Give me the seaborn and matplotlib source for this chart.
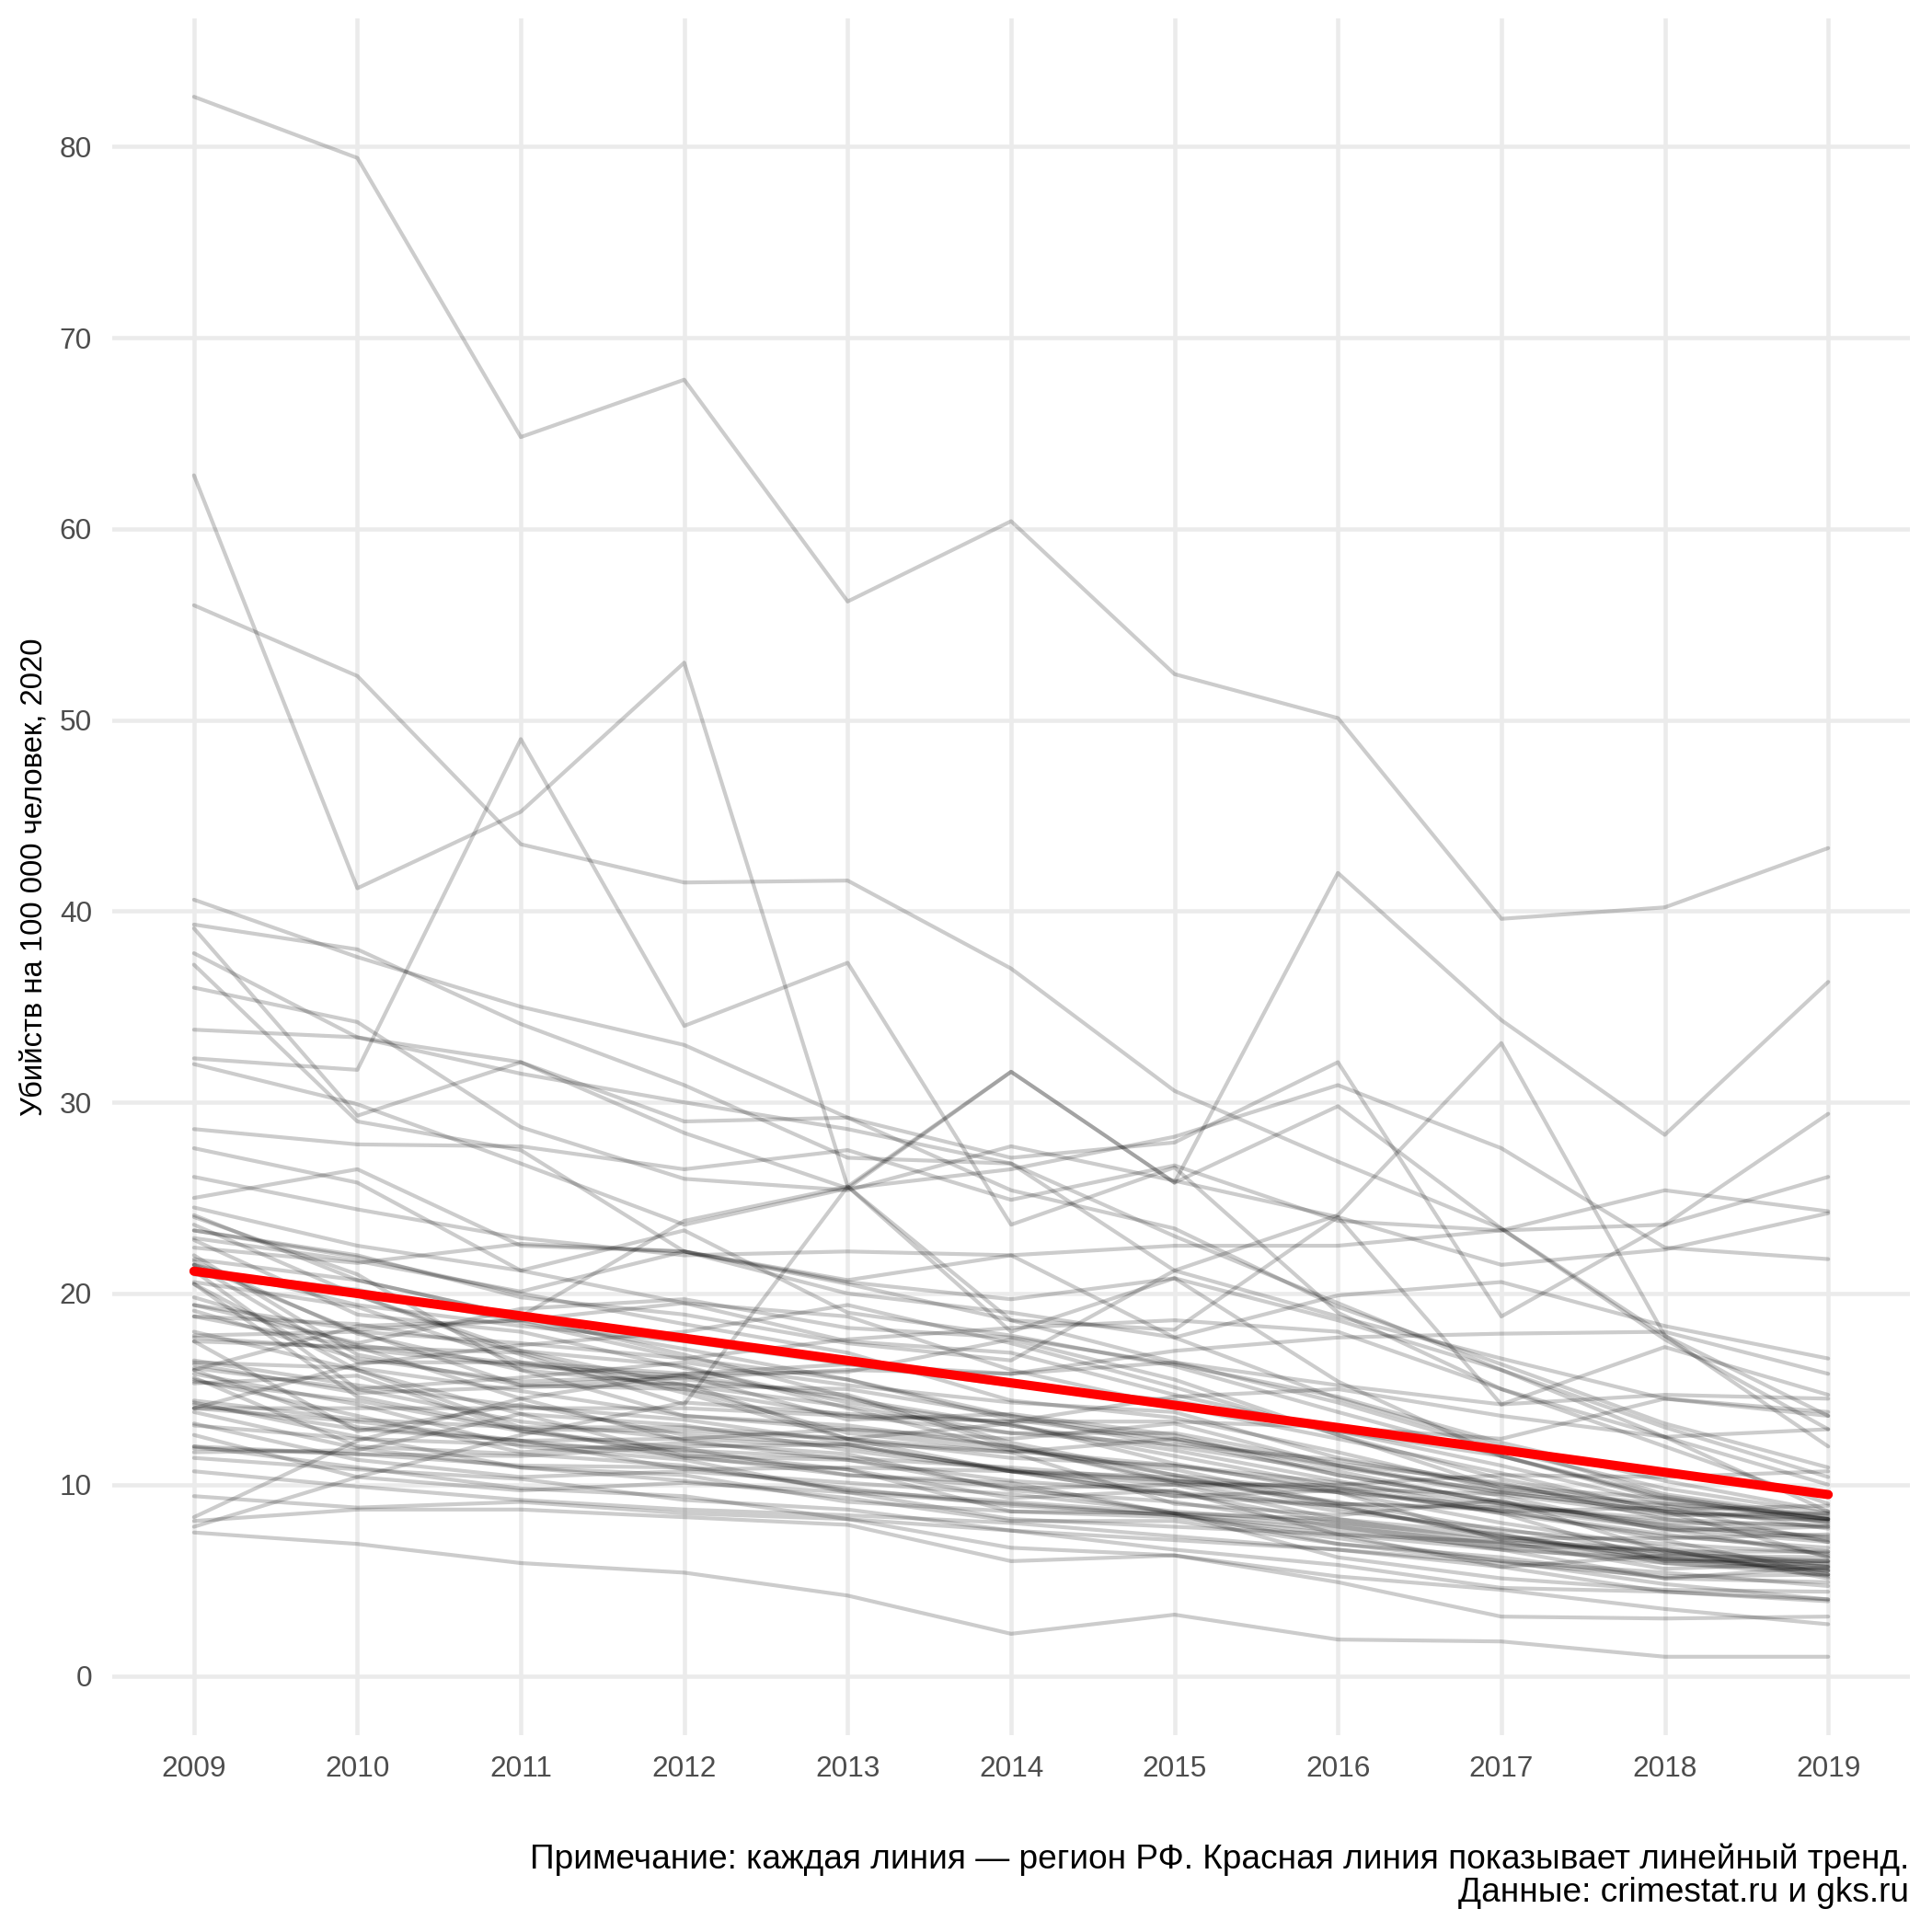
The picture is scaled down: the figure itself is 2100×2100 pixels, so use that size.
import matplotlib.pyplot as plt
import pandas as pd
import seaborn as sns

# Years on the x axis
years = [2009, 2010, 2011, 2012, 2013, 2014, 2015, 2016, 2017, 2018, 2019]

# Murders per 100 000 people, one list per region
r01 = [82.6, 79.4, 64.8, 67.8, 56.2, 60.4, 52.4, 50.1, 39.6, 40.2, 43.3]
r02 = [62.8, 41.2, 45.2, 53.0, 25.6, 31.6, 25.8, 42.0, 34.3, 28.3, 36.3]
r03 = [56.0, 52.3, 43.5, 41.5, 41.6, 37.0, 30.6, 26.9, 23.4, 17.8, 13.6]
r04 = [32.3, 31.7, 49.0, 34.0, 37.3, 23.6, 26.6, 19.0, 15.0, 12.0, 9.0]
r05 = [40.6, 37.6, 35.0, 33.0, 29.2, 27.1, 27.9, 32.1, 18.8, 23.6, 29.4]
r06 = [39.3, 38.0, 34.1, 30.9, 27.1, 26.8, 23.0, 19.5, 16.0, 12.5, 8.6]
r07 = [39.1, 29.3, 32.1, 28.4, 25.5, 26.5, 28.2, 30.9, 27.6, 22.4, 21.8]
r08 = [37.8, 33.4, 31.5, 30.0, 28.6, 26.8, 21.2, 18.8, 16.6, 14.5, 13.6]
r09 = [37.2, 29.0, 27.5, 22.2, 20.0, 19.0, 17.7, 14.5, 12.0, 9.5, 8.3]
r10 = [36.0, 34.2, 28.7, 26.0, 25.4, 27.7, 25.9, 24.0, 21.5, 22.3, 24.2]
r11 = [33.8, 33.4, 32.1, 29.0, 29.2, 25.4, 23.4, 19.3, 16.3, 13.2, 10.9]
r12 = [32.0, 29.9, 26.8, 23.6, 25.5, 31.6, 25.8, 29.8, 23.4, 17.6, 12.9]
r13 = [28.6, 27.8, 27.7, 26.5, 27.5, 24.9, 26.7, 23.8, 23.3, 25.4, 24.3]
r14 = [27.6, 25.8, 21.2, 23.3, 19.0, 17.8, 16.2, 13.8, 11.5, 9.2, 8.2]
r15 = [26.1, 24.4, 22.9, 22.0, 22.2, 22.0, 22.5, 22.5, 23.3, 23.6, 26.1]
r16 = [25.0, 26.5, 22.5, 22.2, 20.5, 18.6, 16.4, 14.3, 11.8, 9.8, 8.5]
r17 = [24.5, 22.5, 21.2, 19.5, 18.8, 16.0, 14.1, 12.4, 10.6, 8.6, 6.2]
r18 = [24.1, 20.7, 18.8, 23.8, 25.6, 18.0, 20.8, 15.4, 11.5, 9.4, 8.2]
r19 = [23.3, 22.0, 19.8, 18.9, 17.4, 16.5, 21.2, 24.1, 33.1, 17.8, 12.0]
r20 = [22.9, 21.7, 20.1, 22.2, 20.7, 22.0, 17.7, 19.9, 20.6, 18.3, 16.6]
r21 = [23.6, 19.9, 16.8, 14.2, 25.6, 18.6, 18.1, 24.0, 14.2, 17.2, 14.7]
r22 = [23.3, 21.9, 20.0, 18.4, 16.9, 14.4, 13.5, 11.7, 9.7, 8.9, 7.7]
r23 = [22.8, 18.9, 18.0, 16.1, 14.3, 13.1, 11.5, 9.9, 8.5, 7.3, 6.7]
r24 = [21.5, 19.4, 18.3, 17.5, 16.3, 15.8, 16.4, 15.2, 14.2, 14.7, 14.5]
r25 = [21.7, 17.9, 16.0, 13.6, 13.1, 12.0, 10.1, 8.6, 7.7, 6.4, 6.0]
r26 = [21.5, 16.4, 16.4, 15.8, 16.3, 15.2, 14.4, 12.8, 11.5, 9.3, 8.0]
r27 = [21.2, 20.2, 18.5, 16.6, 15.5, 13.4, 12.3, 10.5, 9.1, 7.8, 7.3]
r28 = [21.2, 15.0, 13.3, 12.4, 12.0, 10.8, 9.6, 8.9, 7.3, 6.3, 5.7]
r29 = [20.6, 19.3, 16.4, 15.0, 13.6, 12.7, 12.1, 11.3, 9.9, 9.3, 8.2]
r30 = [19.4, 17.4, 19.2, 19.7, 18.2, 17.7, 16.3, 14.6, 12.2, 10.2, 8.6]
r31 = [19.8, 17.3, 16.3, 15.5, 14.7, 12.2, 10.5, 8.8, 7.4, 5.9, 5.3]
r32 = [18.8, 17.2, 14.5, 12.3, 11.3, 10.2, 9.6, 8.0, 7.2, 6.2, 5.5]
r33 = [19.4, 18.1, 18.6, 17.1, 15.5, 13.6, 12.0, 10.7, 9.0, 7.7, 7.0]
r34 = [19.1, 16.6, 15.4, 15.7, 13.4, 13.7, 12.6, 10.5, 9.1, 7.9, 7.1]
r35 = [18.8, 18.4, 17.0, 15.2, 14.1, 12.7, 12.7, 11.1, 10.1, 8.2, 7.8]
r36 = [17.5, 12.8, 14.2, 12.6, 12.1, 10.7, 10.4, 9.0, 8.8, 7.7, 6.3]
r37 = [17.7, 17.1, 16.2, 15.7, 14.5, 13.1, 11.8, 10.2, 8.6, 7.4, 6.5]
r38 = [17.5, 17.2, 16.9, 14.8, 12.4, 13.2, 11.1, 9.6, 8.0, 6.7, 5.8]
r39 = [16.4, 16.1, 14.9, 13.6, 12.9, 12.0, 10.2, 9.8, 8.5, 6.0, 6.0]
r40 = [16.1, 15.0, 15.6, 16.4, 15.2, 14.3, 13.8, 11.4, 10.0, 8.5, 8.1]
r41 = [15.5, 13.6, 11.7, 12.2, 11.6, 9.7, 9.1, 7.8, 6.6, 6.1, 5.6]
r42 = [15.3, 15.7, 12.8, 11.7, 10.8, 9.3, 9.7, 7.4, 7.0, 5.6, 5.9]
r43 = [15.4, 14.4, 12.8, 11.9, 10.5, 10.1, 8.5, 7.8, 6.9, 6.1, 5.5]
r44 = [14.3, 12.5, 10.9, 10.5, 9.1, 8.6, 8.3, 7.2, 6.0, 5.4, 4.7]
r45 = [14.0, 14.0, 14.0, 14.0, 13.6, 13.3, 13.3, 13.0, 12.4, 14.5, 13.8]
r46 = [13.8, 11.9, 10.9, 10.2, 9.3, 8.1, 8.1, 6.9, 6.0, 4.8, 4.0]
r47 = [14.4, 13.4, 13.0, 13.0, 12.4, 10.7, 10.2, 9.1, 7.6, 6.9, 6.4]
r48 = [13.2, 11.3, 10.4, 10.7, 10.1, 9.5, 8.6, 8.0, 6.8, 6.6, 5.2]
r49 = [12.6, 10.4, 9.7, 10.1, 9.6, 8.2, 7.8, 7.4, 5.7, 6.3, 6.2]
r50 = [13.1, 12.4, 12.1, 11.8, 11.4, 10.9, 10.2, 9.6, 8.9, 8.2, 7.2]
r51 = [11.7, 11.8, 13.7, 11.5, 11.3, 9.8, 10.0, 8.2, 7.0, 6.5, 5.7]
r52 = [11.4, 10.8, 10.3, 9.2, 8.7, 7.6, 7.1, 6.6, 5.7, 4.4, 4.0]
r53 = [12.0, 11.6, 11.0, 10.9, 9.8, 8.9, 8.4, 7.4, 6.6, 5.1, 5.7]
r54 = [9.4, 8.8, 9.1, 8.5, 8.2, 7.6, 6.6, 5.8, 4.6, 4.4, 3.9]
r55 = [8.1, 8.7, 8.7, 8.3, 7.9, 6.0, 6.3, 4.9, 3.1, 3.0, 3.1]
r56 = [7.8, 10.4, 12.6, 14.3, 13.7, 13.3, 14.6, 15.0, 13.6, 12.5, 12.9]
r57 = [7.5, 6.9, 5.9, 5.4, 4.2, 2.2, 3.2, 1.9, 1.8, 1.0, 1.0]
r58 = [8.3, 12.3, 14.5, 15.8, 15.9, 17.6, 15.5, 12.6, 9.8, 9.0, 8.4]
r59 = [14.0, 16.3, 17.3, 18.0, 19.4, 17.4, 15.1, 12.6, 10.3, 8.7, 8.9]
r60 = [16.0, 18.3, 18.6, 19.5, 17.5, 16.9, 14.7, 12.8, 11.0, 9.0, 8.2]
r61 = [21.8, 20.7, 18.8, 16.8, 14.6, 12.0, 10.5, 9.6, 7.1, 6.6, 5.1]
r62 = [21.5, 18.0, 15.2, 15.0, 12.7, 11.8, 10.8, 9.0, 8.7, 7.1, 5.3]
r63 = [20.5, 16.0, 13.0, 11.4, 10.8, 8.6, 8.5, 6.2, 5.1, 4.5, 4.4]
r64 = [18.0, 16.0, 13.7, 13.1, 11.8, 10.7, 9.4, 8.9, 7.2, 7.2, 7.4]
r65 = [15.8, 14.2, 12.0, 11.3, 9.6, 9.0, 8.4, 7.6, 6.7, 5.9, 5.5]
r66 = [15.6, 12.0, 11.6, 11.0, 9.7, 9.1, 8.5, 8.2, 7.4, 6.1, 6.0]
r67 = [12.0, 10.9, 9.8, 9.4, 8.2, 6.7, 6.3, 5.2, 4.5, 3.5, 2.7]
r68 = [14.2, 12.9, 12.3, 11.5, 10.5, 9.9, 8.5, 6.9, 6.2, 5.1, 4.9]
r69 = [21.0, 19.9, 17.0, 16.2, 14.0, 11.8, 11.0, 10.1, 9.0, 8.0, 7.9]
r70 = [20.5, 14.6, 12.9, 12.8, 12.4, 11.4, 11.0, 9.8, 9.5, 8.4, 8.5]
r71 = [24.0, 21.0, 16.0, 15.2, 15.0, 13.6, 12.4, 10.9, 9.6, 8.6, 8.2]
r72 = [16.5, 15.2, 14.1, 13.4, 12.2, 11.7, 9.0, 8.4, 9.2, 6.5, 6.5]
r73 = [11.9, 11.6, 11.5, 12.0, 12.1, 10.7, 10.0, 10.0, 10.5, 10.4, 10.7]
r74 = [16.0, 13.0, 12.3, 12.4, 12.9, 12.4, 13.2, 11.0, 9.4, 7.6, 7.8]
r75 = [22.0, 16.8, 15.2, 15.6, 16.0, 15.8, 17.0, 17.7, 17.9, 18.0, 15.8]
r76 = [17.8, 18.0, 17.4, 16.6, 17.6, 18.2, 18.6, 18.0, 15.0, 12.5, 10.0]
r77 = [22.4, 21.6, 22.6, 22.2, 20.6, 19.7, 20.8, 18.6, 16.0, 13.0, 10.4]
r78 = [16.3, 14.8, 15.1, 15.3, 12.4, 11.7, 12.4, 11.0, 9.6, 8.6, 8.1]
r79 = [14.0, 13.3, 12.3, 10.8, 10.9, 10.7, 9.4, 9.7, 8.6, 8.8, 7.0]
r80 = [10.7, 9.9, 9.2, 8.7, 8.4, 8.0, 7.3, 6.6, 5.9, 5.2, 5.3]

regions = [
    r01, r02, r03, r04, r05, r06, r07, r08, r09, r10,
    r11, r12, r13, r14, r15, r16, r17, r18, r19, r20,
    r21, r22, r23, r24, r25, r26, r27, r28, r29, r30,
    r31, r32, r33, r34, r35, r36, r37, r38, r39, r40,
    r41, r42, r43, r44, r45, r46, r47, r48, r49, r50,
    r51, r52, r53, r54, r55, r56, r57, r58, r59, r60,
    r61, r62, r63, r64, r65, r66, r67, r68, r69, r70,
    r71, r72, r73, r74, r75, r76, r77, r78, r79, r80,
]

y_ticks = [0, 10, 20, 30, 40, 50, 60, 70, 80]

y_label = "Убийств на 100 000 человек, 2020"
caption_1 = "Примечание: каждая линия — регион РФ. Красная линия показывает линейный тренд."
caption_2 = "Данные: crimestat.ru и gks.ru"

# long format table for seaborn
rows = []
for i, vals in enumerate(regions):
    for yr, v in zip(years, vals):
        rows.append((i, yr, v))
df = pd.DataFrame(rows, columns=["region", "year", "rate"])

sns.set_theme(style="whitegrid")
plt.rcParams["font.family"] = ["Liberation Sans", "DejaVu Sans"]

W = 2100
fig = plt.figure(figsize=(7, 7), dpi=300)
ax = fig.add_axes([122 / W, 1 - 1886 / W, (2076 - 122) / W, (1886 - 20) / W])

sns.lineplot(
    data=df, x="year", y="rate", units="region", estimator=None,
    color="black", alpha=0.2, lw=1.0, ax=ax,
)
sns.regplot(
    data=df, x="year", y="rate", scatter=False, ci=None,
    color="red", line_kws={"lw": 2.4}, ax=ax,
)

ax.set_xlim(2008.5, 2019.5)
ax.set_ylim(-3.1, 86.7)
ax.set_xticks(years)
ax.set_xticklabels([str(y) for y in years])
ax.set_yticks(y_ticks)
ax.grid(True, color="#EBEBEB", lw=1.1)
ax.set_axisbelow(True)
for s in ax.spines.values():
    s.set_visible(False)
ax.tick_params(axis="both", length=0, labelsize=7.6, labelcolor="#4D4D4D", pad=5.3)
ax.set_xlabel("")
ax.set_ylabel(y_label, fontsize=7.9, color="black", labelpad=3)
ax.set_facecolor("white")

fig.text(2075 / W, 1 - 2031 / W, caption_1, ha="right", va="baseline", fontsize=8.9, color="black")
fig.text(2075 / W, 1 - 2067 / W, caption_2, ha="right", va="baseline", fontsize=8.9, color="black")

fig.savefig("out.png", dpi=300, facecolor="white")
